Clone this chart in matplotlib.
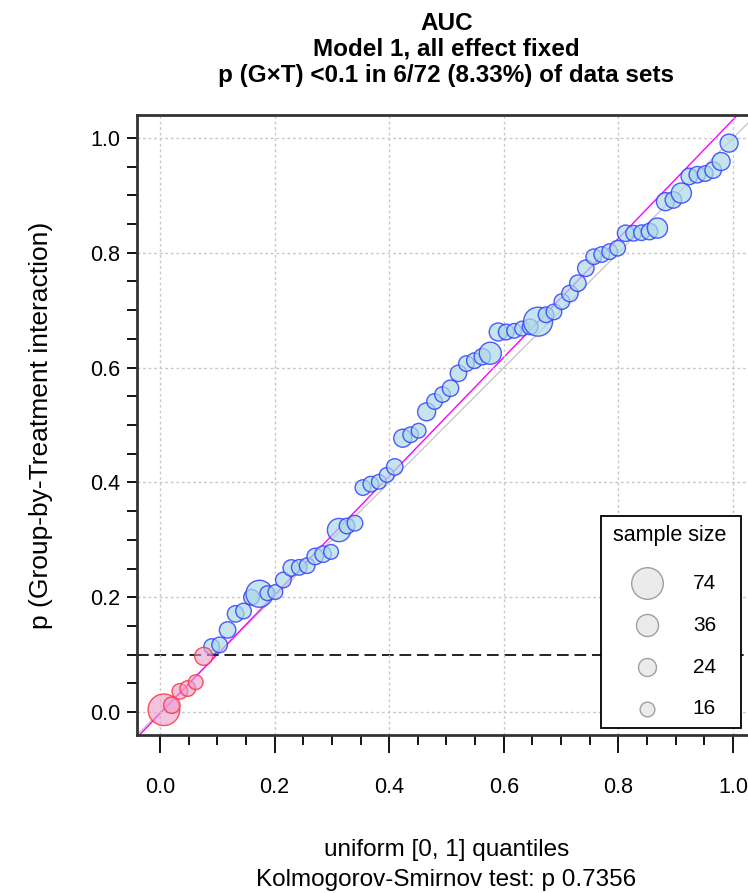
import numpy as np
import matplotlib
matplotlib.use("Agg")
import matplotlib.pyplot as plt
from matplotlib.ticker import MultipleLocator
from matplotlib.patches import Rectangle

plt.rcParams['font.family'] = ['Liberation Sans', 'DejaVu Sans']

# ---- data ----
p_values = [0.004, 0.012, 0.036, 0.041, 0.052, 0.097,
            0.114, 0.117, 0.143, 0.171, 0.176, 0.200, 0.206, 0.207, 0.209, 0.230,
            0.251, 0.252, 0.255, 0.271, 0.275, 0.279, 0.317, 0.324, 0.329, 0.391,
            0.397, 0.401, 0.413, 0.427, 0.477, 0.483, 0.490, 0.523, 0.541, 0.553,
            0.564, 0.590, 0.607, 0.612, 0.619, 0.625, 0.662, 0.662, 0.664, 0.668,
            0.671, 0.680, 0.692, 0.697, 0.715, 0.729, 0.747, 0.773, 0.793, 0.797,
            0.802, 0.808, 0.834, 0.834, 0.835, 0.837, 0.843, 0.889, 0.892, 0.904,
            0.933, 0.936, 0.938, 0.944, 0.959, 0.991]
sample_sizes = [74, 20, 18, 18, 16, 24,
                18, 18, 20, 20, 18, 18, 54, 16, 16, 18,
                20, 18, 18, 20, 20, 16, 40, 18, 18, 18,
                18, 16, 16, 20, 24, 18, 16, 24, 18, 18,
                20, 20, 18, 18, 20, 36, 24, 18, 16, 16,
                18, 62, 18, 18, 18, 20, 20, 20, 18, 18,
                18, 18, 20, 18, 18, 20, 30, 24, 20, 30,
                20, 20, 18, 20, 24, 24]
legend_sizes = [74, 36, 24, 16]
threshold = 0.1
fit_intercept = -0.003
fit_slope = 1.035
ks_p = 0.7356

n = len(p_values)
quantiles = (np.arange(n) + 0.5) / n
p = np.array(p_values)
ss = np.array(sample_sizes)
SCALE = 7.0  # marker area per sample

fig = plt.figure(figsize=(7.48, 8.93), dpi=100)
ax = fig.add_axes([137 / 748, 158 / 893, 619 / 748, 620 / 893])

ax.set_xlim(-0.04, 1.04)
ax.set_ylim(-0.04, 1.04)

# grid + reference lines
ax.grid(True, which='major', color='#c8c8c8', linestyle=(0, (2, 2)), linewidth=1.0, zorder=0)
ax.axline((0, 0), slope=1, color='#c8c8c8', lw=1.0, zorder=1)
ax.axline((0, fit_intercept), slope=fit_slope, color='#ff00ff', lw=1.0, zorder=1)
ax.axhline(threshold, color='#222222', lw=1.4, linestyle=(0, (6, 3)), zorder=1)

sig = p < threshold
ax.scatter(quantiles[~sig], p[~sig], s=ss[~sig] * SCALE,
           facecolor=(0.68, 0.85, 0.90, 0.7), edgecolor=(0.2, 0.25, 1.0, 0.85),
           linewidths=1.0, zorder=3)
ax.scatter(quantiles[sig], p[sig], s=ss[sig] * SCALE,
           facecolor=(0.92, 0.62, 0.80, 0.6), edgecolor=(1.0, 0.2, 0.25, 0.85),
           linewidths=1.0, zorder=3)

# legend: frame drawn separately so it can be wider than its content (as in R)
ax.add_patch(Rectangle((0.7496, 0.0113), 0.2262, 0.3419, transform=ax.transAxes,
                       facecolor='white', edgecolor='black', lw=1.3, zorder=4))
handles = [ax.scatter([], [], s=v * SCALE, facecolor='#ebebeb', edgecolor='#a0a0a0', linewidths=1.0)
           for v in legend_sizes]
leg = ax.legend(handles, [str(v) for v in legend_sizes], title='sample size',
                loc='upper left', bbox_to_anchor=(0.757, 0.3516), borderaxespad=0,
                fontsize=15, title_fontsize=15.5, frameon=False,
                labelspacing=1.1, handlelength=3.2, handletextpad=0.61,
                borderpad=0.38, scatterpoints=1, alignment='left')
leg.set_zorder(5)
leg._legend_box.sep = 20  # gap between title and entries

# ticks
ax.xaxis.set_major_locator(MultipleLocator(0.2))
ax.xaxis.set_minor_locator(MultipleLocator(0.05))
ax.yaxis.set_major_locator(MultipleLocator(0.2))
ax.yaxis.set_minor_locator(MultipleLocator(0.05))
ax.tick_params(axis='x', which='major', length=13, width=1.3, pad=17, labelsize=15.5)
ax.tick_params(axis='x', which='minor', length=7, width=1.3)
ax.tick_params(axis='y', which='both', length=7, width=1.3, pad=5, labelsize=15.5)
ax.set_xticklabels([f'{v:.1f}' for v in ax.get_xticks()])
ax.set_yticklabels([f'{v:.1f}' for v in ax.get_yticks()])
ax.set_xlim(-0.04, 1.04)
ax.set_ylim(-0.04, 1.04)
for sp in ax.spines.values():
    sp.set_linewidth(2.0)
    sp.set_color('#333333')

ax.set_xlabel(f'uniform [0, 1] quantiles\nKolmogorov-Smirnov test: p {ks_p}',
              fontsize=17.5, labelpad=30, linespacing=1.45)
ax.set_ylabel('p (Group-by-Treatment interaction)', fontsize=19, labelpad=27)

n_sig = int(sig.sum())
ax.set_title(f'AUC\nModel 1, all effect fixed\np (G\u00d7T) <{threshold} in {n_sig}/{n} '
             f'({100 * n_sig / n:.2f}%) of data sets',
             fontsize=17.5, fontweight='bold', linespacing=1.15, pad=24)

fig.savefig('out.png', dpi=100)
